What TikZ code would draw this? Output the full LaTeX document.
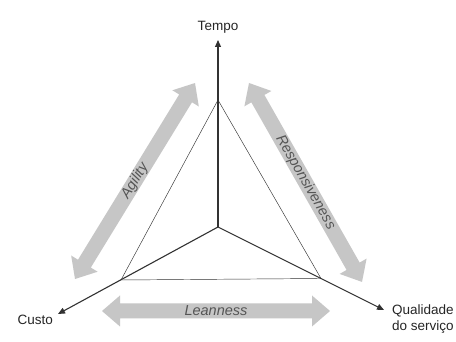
\documentclass[tikz,border=0pt]{standalone}
\usepackage{fontspec}
\setmainfont{Liberation Sans}
\usetikzlibrary{arrows.meta}
\definecolor{axisc}{RGB}{50,50,50}
\definecolor{arrowc}{RGB}{198,198,198}
\definecolor{arrowtext}{RGB}{85,85,85}
\tikzset{
  axis/.style={draw=axisc, line width=1.1pt, -{Triangle[length=7pt,width=6pt]}},
  tri/.style={draw=axisc, line width=0.45pt},
  lbl/.style={font=\fontsize{13.5}{16}\selectfont, text=black!85, inner sep=0pt},
  gtext/.style={font=\fontsize{14.5}{16}\selectfont\itshape, text=arrowtext, inner sep=0pt},
  pics/garrow/.style={code={
    \fill[arrowc] (0,0) -- (18,15.5) -- (18,7.5) -- (#1-18,7.5) -- (#1-18,15.5) -- (#1,0)
      -- (#1-18,-15.5) -- (#1-18,-7.5) -- (18,-7.5) -- (18,-15.5) -- cycle;
  }}
}
\begin{document}
\begin{tikzpicture}[x=1pt,y=1pt]
\useasboundingbox[fill=white] (0,0) rectangle (456,342);
% gray double arrows
\pic[rotate=58.52] at (75,63) {garrow=229.8};
\pic[rotate=-60.4] at (249,259) {garrow=228.8};
\pic at (102,31) {garrow=228};
\node[gtext, rotate=58.52] (agility) at (135,161) {Agility};
\node[gtext, rotate=-60.4] (resp) at (305.5,159.5) {Responsiveness};
\node[gtext] (lean) at (216,31) {Leanness};
% points
\coordinate (O) at (218,115);
\coordinate (V1) at (218,242);
\coordinate (V2) at (121,62);
\coordinate (V3) at (321,63.5);
\coordinate (T) at (218,302);
\coordinate (C) at (58,28);
\coordinate (Q) at (384,32);
% triangle
\draw[tri] (V1) -- (V2) -- (V3) -- cycle;
% axes
\draw[axis] (O) -- (T);
\draw[axis] (O) -- (C);
\draw[axis] (O) -- (Q);
% labels
\node[lbl] (tempo) at (218,315) {Tempo};
\node[lbl, anchor=east] (custo) at (53,22) {Custo};
\node[lbl, anchor=north west, align=left] (qual) at (392,37) {Qualidade\\do serviço};
\end{tikzpicture}
\end{document}
